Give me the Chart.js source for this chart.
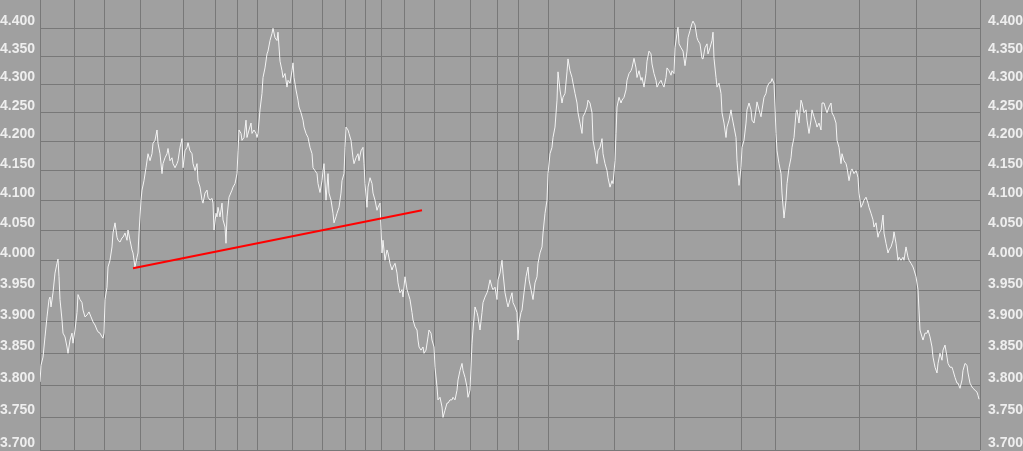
<!DOCTYPE html>
<html><head><meta charset="utf-8">
<script src="https://cdn.jsdelivr.net/npm/chart.js@4.4.1/dist/chart.umd.min.js"></script>
<style>html,body{margin:0;padding:0;background:#a0a0a0;overflow:hidden}
#wrap{position:relative;width:1023px;height:451px}</style></head>
<body><div id="wrap"><canvas id="c"></canvas></div>
<script>
// session index of each reading
const days = [0,1,3,5,7,9,10,11,13,15,17,18,19,20,22,23,25,27,28,30,32,33,35,37,38,40,42,43,45,47,49,51,53,55,57,58,60,62,63,64,65,67,68,70,72,73,75,77,78,80,82,83,85,87,88,90,92,93,95,97,98,99,
101,102,104,106,108,110,112,113,115,117,118,120,122,123,125,127,128,130,132,133,135,137,138,140,142,143,145,147,148,150,152,153,155,157,158,160,162,163,
165,167,168,170,172,173,174,176,177,178,180,182,183,185,186,187,189,192,193,195,197,198,199,201,202,204,206,207,209,211,212,214,216,217,218,
220,222,223,225,227,228,230,232,233,235,237,238,240,242,243,245,247,248,250,252,253,254,256,258,259,261,263,264,266,268,270,272,273,275,277,278,
280,282,283,284,286,288,289,291,293,294,296,297,299,301,302,304,305,306,308,309,311,313,314,316,318,319,321,323,324,325,327,328,330,332,333,335,337,338,340,
341,342,343,345,347,348,350,352,353,355,357,358,360,362,363,365,367,368,370,372,373,375,377,378,379,381,383,384,386,388,389,391,392,394,395,397,398,
400,402,403,405,407,408,410,412,413,415,417,418,420,422,423,425,427,428,430,432,433,435,437,438,440,442,443,445,447,448,450,452,453,455,457,458,460,
462,463,465,467,468,470,472,473,475,477,478,479,481,482,484,486,488,489,491,493,495,497,498,500,502,503,505,507,508,510,512,513,515,517,518,520,
522,523,525,527,528,530,532,533,535,537,538,540,542,543,545,547,548,550,552,553,555,557,558,560,562,563,565,567,568,570,572,573,575,576,577,579,
581,582,584,586,587,589,591,592,594,596,597,599,601,602,604,606,607,609,611,612,614,616,617,619,621,622,624,626,627,629,631,632,634,635,637,638,639,
641,643,644,645,647,648,650,652,653,655,657,658,660,662,663,665,667,668,670,672,673,674,676,677,679,681,682,684,686,687,689,691,692,694,696,697,699,
701,702,704,706,707,709,711,712,714,716,717,719,721,722,724,726,727,729,731,732,734,735,736,737,739,741,742,744,746,747,749,751,752,754,756,757,759,
761,762,764,766,767,769,771,772,774,776,777,779,781,782,784,786,787,789,791,792,794,796,797,799,801,802,804,806,807,809,811,812,814,816,817,818,819,
821,823,824,826,828,829,831,833,834,836,838,839,841,843,844,846,848,849,851,853,854,856,858,859,861,863,864,866,868,869,871,873,874,876,878,879,880,
882,883,885,887,888,890,892,893,895,897,898,900,902,903,905,907,908,910,912,913,915,917,918,920,922,923,925,927,928,930,932,933,935,937,938,939];
const prices = [3.805,3.831,3.844,3.876,3.908,3.936,3.940,3.924,3.947,3.979,3.995,4.002,3.973,3.936,3.903,3.882,3.876,3.860,3.850,3.871,3.882,3.866,3.887,3.915,3.944,3.936,3.931,3.919,3.908,3.911,3.916,3.908,3.900,3.895,3.887,3.884,3.882,3.876,3.874,3.882,3.936,3.956,3.989,4.000,4.022,4.045,4.062,4.038,4.033,4.030,4.037,4.038,4.045,4.033,4.050,4.033,4.017,4.012,3.989,4.005,4.012,4.045,
4.100,4.117,4.133,4.155,4.179,4.167,4.179,4.197,4.202,4.220,4.197,4.179,4.145,4.162,4.172,4.179,4.188,4.167,4.172,4.162,4.155,4.162,4.167,4.190,4.205,4.155,4.184,4.190,4.198,4.184,4.179,4.162,4.150,4.162,4.133,4.122,4.100,4.095,
4.112,4.117,4.105,4.100,4.103,4.095,4.050,4.078,4.072,4.088,4.072,4.095,4.067,4.055,4.028,4.072,4.105,4.117,4.122,4.128,4.145,4.184,4.220,4.214,4.202,4.207,4.237,4.207,4.220,4.232,4.214,4.220,4.214,4.207,4.214,
4.255,4.284,4.312,4.329,4.354,4.359,4.378,4.391,4.400,4.383,4.378,4.393,4.341,4.324,4.312,4.319,4.295,4.307,4.302,4.324,4.338,4.312,4.290,4.272,4.260,4.250,4.237,4.225,4.214,4.207,4.190,4.179,4.155,4.150,4.145,4.128,
4.113,4.133,4.150,4.162,4.100,4.145,4.112,4.100,4.078,4.062,4.072,4.078,4.088,4.112,4.133,4.145,4.190,4.225,4.220,4.214,4.202,4.172,4.162,4.172,4.179,4.167,4.184,4.190,4.162,4.128,4.088,4.122,4.138,4.128,4.112,4.100,4.083,4.088,4.095,
4.055,4.012,4.033,4.000,4.017,4.012,3.995,3.984,3.989,3.995,3.979,3.963,3.947,3.952,3.940,3.973,3.952,3.947,3.936,3.915,3.903,3.892,3.887,3.871,3.860,3.855,3.860,3.850,3.855,3.876,3.887,3.882,3.871,3.860,3.828,3.797,3.777,
3.781,3.766,3.750,3.761,3.772,3.772,3.777,3.777,3.781,3.777,3.792,3.808,3.823,3.834,3.823,3.812,3.797,3.781,3.792,3.866,3.887,3.924,3.915,3.908,3.887,3.915,3.931,3.940,3.947,3.952,3.968,3.956,3.952,3.956,3.936,3.968,3.979,
4.000,3.979,3.947,3.931,3.924,3.936,3.947,3.931,3.924,3.915,3.871,3.898,3.915,3.919,3.947,3.973,3.989,3.968,3.952,3.936,3.963,3.973,3.995,4.012,4.022,4.045,4.078,4.100,4.145,4.179,4.190,4.207,4.225,4.272,4.322,4.290,
4.267,4.277,4.284,4.322,4.345,4.324,4.312,4.302,4.284,4.267,4.250,4.232,4.214,4.243,4.250,4.260,4.272,4.267,4.250,4.202,4.184,4.162,4.184,4.190,4.205,4.179,4.162,4.150,4.138,4.122,4.133,4.128,4.167,4.214,4.260,4.277,
4.267,4.272,4.277,4.290,4.307,4.319,4.324,4.329,4.346,4.329,4.312,4.324,4.307,4.312,4.295,4.319,4.341,4.359,4.354,4.336,4.319,4.307,4.295,4.302,4.307,4.302,4.295,4.312,4.329,4.324,4.316,4.324,4.319,4.365,4.391,4.402,4.372,
4.365,4.359,4.346,4.333,4.359,4.383,4.396,4.409,4.413,4.406,4.383,4.378,4.372,4.346,4.345,4.365,4.372,4.354,4.365,4.378,4.393,4.346,4.312,4.295,4.302,4.284,4.250,4.232,4.207,4.225,4.237,4.255,4.243,4.225,4.207,4.167,4.125,
4.155,4.190,4.202,4.232,4.255,4.267,4.255,4.237,4.232,4.255,4.269,4.255,4.243,4.255,4.277,4.284,4.295,4.302,4.304,4.310,4.302,4.260,4.214,4.184,4.162,4.145,4.112,4.070,4.100,4.128,4.155,4.172,4.190,4.207,4.250,4.255,4.232,
4.272,4.267,4.250,4.255,4.237,4.214,4.237,4.255,4.243,4.232,4.225,4.232,4.220,4.267,4.267,4.255,4.250,4.260,4.267,4.250,4.243,4.232,4.202,4.190,4.162,4.179,4.167,4.162,4.155,4.133,4.150,4.153,4.145,4.150,4.145,4.138,4.112,
4.088,4.095,4.100,4.105,4.095,4.088,4.078,4.067,4.055,4.062,4.038,4.045,4.050,4.075,4.045,4.028,4.012,4.017,4.022,4.033,4.047,4.028,4.000,4.005,4.000,4.005,4.000,4.022,4.005,4.000,3.995,3.989,3.984,3.973,3.952,3.919,3.887,
3.876,3.871,3.882,3.882,3.887,3.876,3.860,3.844,3.828,3.819,3.834,3.850,3.839,3.855,3.863,3.844,3.834,3.828,3.828,3.823,3.812,3.803,3.803,3.795,3.808,3.823,3.834,3.831,3.819,3.803,3.797,3.795,3.792,3.789,3.784,3.778];
const trendDays = [93, 382];
const trendPrices = [3.987, 4.083];
const priceTicks = [3.70,3.75,3.80,3.85,3.90,3.95,4.00,4.05,4.10,4.15,4.20,4.25,4.30,4.35,4.40];
const gridDays = [0,34,64,100,143,175,197,217,252,282,305,325,341,364,394,430,457,478,508,574,634,701,735,819,876,940];
const yMin = 3.70, yMax = 4.4515, xMax = 940;

const fontSpec = {family:'Liberation Sans', size:14, weight:'bold'};
function yAxis(pos){
  const left = pos === 'left';
  return {
    type:'logarithmic', position:pos, min:yMin, max:yMax,
    afterBuildTicks: s => { s.ticks = priceTicks.map(v => ({value:v})); },
    afterFit: s => { s.width = left ? 40 : 43; s.paddingTop = 0; s.paddingBottom = 0; },
    grid:{display:left, color:'#787878', lineWidth:1, drawTicks:false},
    border:{display:false},
    ticks:{color:'#eeeeee', font:fontSpec, padding:left?0:8, crossAlign:left?'far':'near',
      labelOffset:-7, autoSkip:false, callback: v => Number(v).toFixed(3)}
  };
}

new Chart(document.getElementById('c'), {
  type:'line',
  data:{datasets:[
    {data: trendDays.map((d,i)=>({x:d,y:trendPrices[i]})), borderColor:'#ff0000', borderWidth:2, pointRadius:0, yAxisID:'y', xAxisID:'x'},
    {data: days.map((d,i)=>({x:d,y:prices[i]})), borderColor:'#f4f4f4', borderWidth:1, pointRadius:0, tension:0, yAxisID:'y', xAxisID:'x'}
  ]},
  options:{
    responsive:true, maintainAspectRatio:false, devicePixelRatio:1, animation:false, events:[],
    layout:{padding:{top:0,bottom:1,left:0,right:0}},
    plugins:{legend:{display:false}, tooltip:{enabled:false}},
    scales:{
      x:{type:'linear', min:0, max:xMax,
        afterBuildTicks: s => { s.ticks = gridDays.map(v => ({value:v})); },
        afterFit: s => { s.height = 0; s.paddingLeft = 0; s.paddingRight = 0; },
        grid:{color:'#787878', lineWidth:1, drawTicks:false}, border:{display:false}, ticks:{display:false}},
      y: yAxis('left'),
      y2: yAxis('right')
    }
  }
});
</script></body></html>
